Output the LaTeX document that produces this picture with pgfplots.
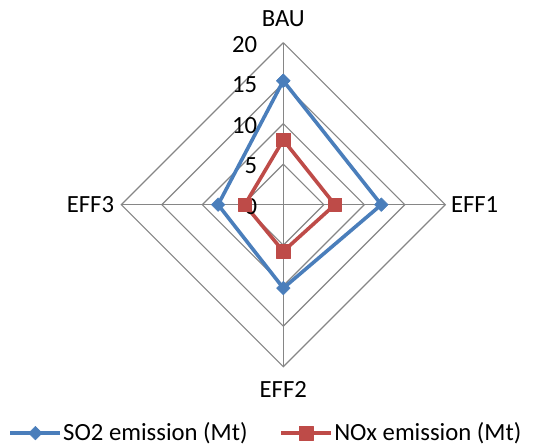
\documentclass[border=0pt]{standalone}
\usepackage{fontspec}
\setmainfont{Carlito}
\usepackage{pgfplots}
\pgfplotsset{compat=1.18}
\definecolor{soblue}{HTML}{4A7EBB}
\definecolor{noxred}{HTML}{BE4B48}
\definecolor{gridgray}{HTML}{868686}
\begin{document}
\fontsize{24.7}{29}\selectfont
\begin{tikzpicture}
\path[use as bounding box] (0,0) rectangle (535pt,447pt);
\begin{axis}[
  at={(283.3pt,242.3pt)}, anchor=origin,
  x=8.1pt, y=8.1pt,
  xmin=-20, xmax=20, ymin=-20, ymax=20,
  hide axis, clip=false,
  legend columns=2,
  legend style={draw=none, fill=none, at={(0.445,-0.205)}, anchor=center,
    font=\fontsize{24.7}{29}\selectfont,
    nodes={inner sep=1pt},
    /tikz/every even column/.append style={column sep=31pt}},
  legend image code/.code={\draw[mark repeat=2,mark phase=2,#1] plot coordinates {(0pt,0pt)(25pt,0pt)(50pt,0pt)};},
]
% spokes
\addplot[gridgray, line width=1.2pt, forget plot] coordinates {(0,-20)(0,20)};
\addplot[gridgray, line width=1.2pt, forget plot] coordinates {(-20,0)(20,0)};
% diamond grid
\addplot[gridgray, line width=1.2pt, forget plot] coordinates {(0,5)(5,0)(0,-5)(-5,0)(0,5)};
\addplot[gridgray, line width=1.2pt, forget plot] coordinates {(0,10)(10,0)(0,-10)(-10,0)(0,10)};
\addplot[gridgray, line width=1.2pt, forget plot] coordinates {(0,15)(15,0)(0,-15)(-15,0)(0,15)};
\addplot[gridgray, line width=1.2pt, forget plot] coordinates {(0,20)(20,0)(0,-20)(-20,0)(0,20)};
% series: BAU (top), EFF1 (right), EFF2 (bottom), EFF3 (left)
\addplot[soblue, line width=3.6pt, line join=round, mark=square*, mark size=4.8pt,
  mark options={solid, rotate=45, line width=0.5pt, fill=soblue}]
  coordinates {(0,15.3)(12.1,0)(0,-10.3)(-8.05,0)(0,15.3)};
\addlegendentry{SO2 emission (Mt)}
\addplot[noxred, line width=3.6pt, line join=round, mark=square*, mark size=6.8pt,
  mark options={solid, line width=0.5pt, fill=noxred}]
  coordinates {(0,8.0)(6.36,0)(0,-5.76)(-4.75,0)(0,8.0)};
\addlegendentry{NOx emission (Mt)}
% radial tick labels
\node[anchor=east, inner sep=0pt, xshift=-26pt, yshift=-1.5pt] at (axis cs:0,0) {0};
\node[anchor=east, inner sep=0pt, xshift=-26pt, yshift=-1.5pt] at (axis cs:0,5) {5};
\node[anchor=east, inner sep=0pt, xshift=-26pt, yshift=-1.5pt] at (axis cs:0,10) {10};
\node[anchor=east, inner sep=0pt, xshift=-26pt, yshift=-1.5pt] at (axis cs:0,15) {15};
\node[anchor=east, inner sep=0pt, xshift=-26pt, yshift=-1.5pt] at (axis cs:0,20) {20};
% category labels
\node[anchor=south, inner sep=0pt, yshift=16pt] at (axis cs:0,20) {BAU};
\node[anchor=west, inner sep=0pt, xshift=5.5pt] at (axis cs:20,0) {EFF1};
\node[anchor=north, inner sep=0pt, yshift=-15pt] at (axis cs:0,-20) {EFF2};
\node[anchor=east, inner sep=0pt, xshift=-7pt] at (axis cs:-20,0) {EFF3};
\end{axis}
\end{tikzpicture}
\end{document}
